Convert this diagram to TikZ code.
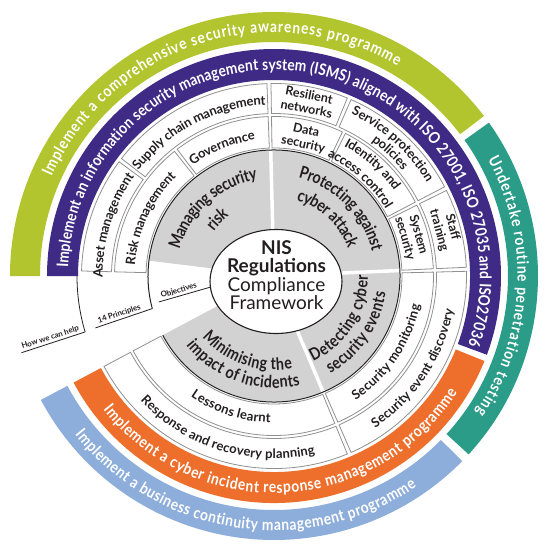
\documentclass[tikz,border=0pt]{standalone}
\usepackage{fontspec}
\setmainfont{Lato}
\newfontfamily\bandfont[FakeStretch=0.86]{Lato}
\newfontfamily\corefont[FakeStretch=0.84]{Lato}
\usetikzlibrary{decorations.text,shapes.geometric}
\definecolor{AwareGreen}{HTML}{B3C52E}
\definecolor{PenTeal}{HTML}{2A9C88}
\definecolor{BcmBlue}{HTML}{8DADDA}
\definecolor{IsmsPurple}{HTML}{3F2A86}
\definecolor{IncOrange}{HTML}{EE6E2C}
\definecolor{CoreGrey}{HTML}{D2D2D2}
\definecolor{CellLine}{HTML}{909090}
\definecolor{CoreInk}{HTML}{231F20}
% annular sector: style, outer radius, inner radius, from angle, to angle
\newcommand{\annseg}[5]{%
  \path[#1] (#4:#2) arc[start angle=#4, end angle=#5, radius=#2]
    -- (#5:#3) arc[start angle=#5, end angle=#4, radius=#3] -- cycle;}

\begin{document}
\begin{tikzpicture}[x=1pt, y=1pt,
  cellbox/.style={draw=CellLine, line width=0.8pt, fill=white},
  bandtext/.style={decorate, decoration={text along path, text align={fit to path}, raise=-5.5pt,
    text={|\color{white}\bandfont\fontsize{16}{16}\selectfont\bfseries|#1}}},
  coretext/.style={decorate, decoration={text along path, text align=center, raise=-6pt,
    text={|\color{CoreInk}\corefont\fontsize{17}{17}\selectfont\bfseries|#1}}},
  celltext/.style={decorate, decoration={text along path, text align=center, raise=-4.6pt,
    text={|\color{CoreInk}\fontsize{13}{13}\selectfont\bfseries|#1}}},
  cellnode/.style={font=\fontsize{12.5}{14}\selectfont\bfseries, text=CoreInk, align=center, inner sep=0pt},
  wedgeline/.style={draw=CoreInk, line width=0.8pt},
  wedgelabel/.style={font=\fontsize{7.8}{8}\selectfont\bfseries, text=CoreInk, inner sep=1.5pt, sloped, above}
]
  \fill[white] (-274,-279) rectangle (278,276);
  \useasboundingbox (-274,-279) rectangle (278,276);

  % programme bands
  \annseg{fill=AwareGreen}{264}{234}{180}{37.3}
  \annseg{fill=PenTeal}{264}{234}{35.5}{-42.5}
  \annseg{fill=BcmBlue}{264}{234}{-44.5}{-152}
  \annseg{fill=IsmsPurple}{227}{196}{180}{-20.3}
  \annseg{fill=IncOrange}{227}{196}{-22}{-152}

  % principle cells
  \foreach \aa/\ab in {92.1/127.4, 128.6/178.5, 64.6/90.9, 27.6/63.4, 2.6/26.4, -66.4/1.4, -152/-67.6}
    {\annseg{cellbox}{159.5}{128}{\aa}{\ab}}
  \foreach \aa/\ab in {92.1/142.4, 143.6/178.5, 67.6/90.9, 27.6/66.4, 2.6/26.4, -66.4/1.4, -152/-67.6}
    {\annseg{cellbox}{192.5}{162.5}{\aa}{\ab}}

  % objectives ring
  \fill[CoreGrey] (0,0) -- (-152:125.5) arc[start angle=-152, end angle=173, radius=125.5] -- cycle;
  \foreach \a in {91.5, 2.5, -67} \draw[white, line width=3.5pt] (0,0) -- (\a:125.5);
  \draw[CoreInk, line width=1pt] (-152:126) arc[start angle=-152, end angle=195, radius=126];
  \node[ellipse, draw=CoreInk, line width=1.1pt, fill=white, minimum width=132pt,
    minimum height=104pt, inner sep=0pt] (core) at (2,-5.5) {};
  \node[align=center, text=CoreInk, inner sep=0pt, font=\fontsize{19}{18.5}\selectfont] (title) at (2.5,1)
    {{\bfseries NIS}\\{\bfseries Regulations}\\Compliance\\Framework};

  % how we can help
  \coordinate (helpOut) at (196.9:264);
  \coordinate (helpIn) at (196.5:197);
  \coordinate (prinOut) at (196.2:186);
  \coordinate (prinIn) at (195:126);
  \coordinate (objOut) at (192.7:118);
  \draw[wedgeline] (180:197) arc[start angle=180, end angle=196.5, radius=197];
  \draw[wedgeline] (helpOut) -- (helpIn) node[wedgelabel, pos=0.48] {How we can help};
  \draw[wedgeline] (prinOut) -- (prinIn) node[wedgelabel, pos=0.45] {14 Principles};
  \draw[wedgeline] (objOut) -- (core.185) node[wedgelabel, pos=0.42] {Objectives};

  % band texts
  \path[bandtext={Implement a comprehensive security awareness programme}]
    (156:249) arc[start angle=156, end angle=59.5, radius=249];
  \path[bandtext={Undertake routine penetration testing}]
    (28.5:249) arc[start angle=28.5, end angle=-34, radius=249];
  \path[bandtext={Implement a business continuity management programme}]
    (-141.5:249) arc[start angle=-141.5, end angle=-56, radius=249];
  \path[bandtext={Implement an information security management system (ISMS) aligned with ISO 27001, ISO 27035 and ISO27036}]
    (177.7:211.5) arc[start angle=177.7, end angle=-19.5, radius=211.5];
  \path[bandtext={Implement a cyber incident response management programme}]
    (-142:211.5) arc[start angle=-142, end angle=-32.3, radius=211.5];

  % objective texts
  \path[coretext={Managing security}] (177:104) arc[start angle=177, end angle=87, radius=104];
  \path[coretext={risk}] (155:81) arc[start angle=155, end angle=115, radius=81];
  \path[coretext={Protecting against}] (90:107) arc[start angle=90, end angle=0, radius=107];
  \path[coretext={cyber attack}] (87:85) arc[start angle=87, end angle=7, radius=85];
  \path[coretext={Detecting cyber}] (-72.5:88) arc[start angle=-72.5, end angle=7.5, radius=88];
  \path[coretext={security events}] (-74.3:107) arc[start angle=-74.3, end angle=5.7, radius=107];
  \path[coretext={Minimising the}] (-154.2:88) arc[start angle=-154.2, end angle=-64.2, radius=88];
  \path[coretext={impact of incidents}] (-159:106) arc[start angle=-159, end angle=-59, radius=106];

  % principle texts
  \path[celltext={Supply chain management}] (157.5:176) arc[start angle=157.5, end angle=77.5, radius=176];
  \path[celltext={Asset management}] (192.6:176) arc[start angle=192.6, end angle=132.6, radius=176];
  \path[celltext={Governance}] (142:142) arc[start angle=142, end angle=82, radius=142];
  \path[celltext={Risk management}] (190:144) arc[start angle=190, end angle=120, radius=144];
  \path[celltext={Service protection}] (78:184) arc[start angle=78, end angle=18, radius=184];
  \path[celltext={policies}] (66.7:171) arc[start angle=66.7, end angle=26.7, radius=171];
  \path[celltext={Identity and}] (78.5:152) arc[start angle=78.5, end angle=18.5, radius=152];
  \path[celltext={access control}] (83.4:135) arc[start angle=83.4, end angle=13.4, radius=135];
  \path[celltext={Security monitoring}] (-79:144) arc[start angle=-79, end angle=11, radius=144];
  \path[celltext={Security event discovery}] (-78.5:178) arc[start angle=-78.5, end angle=11.5, radius=178];
  \path[celltext={Lessons learnt}] (-148:142) arc[start angle=-148, end angle=-68, radius=142];
  \path[celltext={Response and recovery planning}] (-157:178) arc[start angle=-157, end angle=-57, radius=178];

  \node[cellnode, rotate=-11] (resil) at (79:177.5) {Resilient\\networks};
  \node[cellnode, rotate=-12.5] (datasec) at (77.5:141.5) {Data\\security};
  \node[cellnode, rotate=-74.6] (staff) at (15.4:178) {Staff\\training};
  \node[cellnode, rotate=-74] (syssec) at (16:143) {System\\security};
\end{tikzpicture}
\end{document}
